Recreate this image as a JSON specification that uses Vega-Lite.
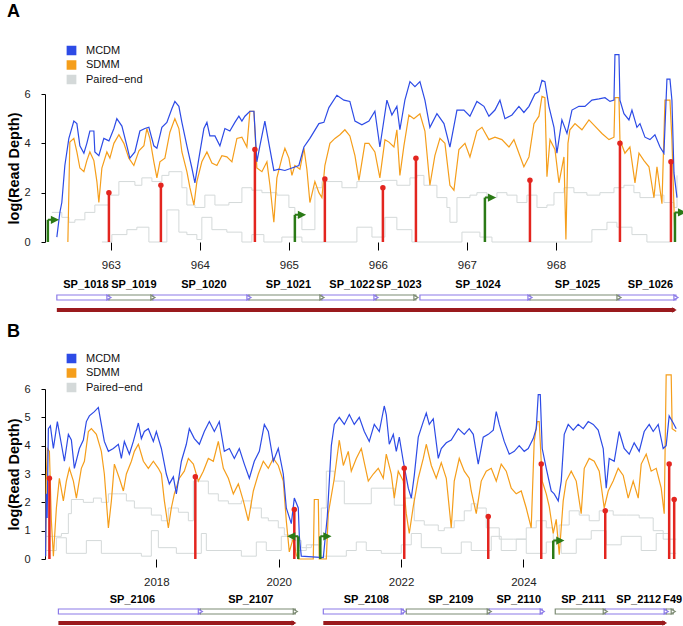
{
"$schema":"https://vega.github.io/schema/vega-lite/v6.json",
"padding":{"left":6,"top":3,"right":0,"bottom":0},
"config":{"font":"Liberation Sans","view":{"stroke":null},"axis":{"grid":false}},
"datasets":{
"mA":[{"x":962.393,"y":0.2},{"x":962.427,"y":1.2},{"x":962.449,"y":1.6},{"x":962.483,"y":3.1},{"x":962.528,"y":4.2},{"x":962.584,"y":4.9},{"x":962.618,"y":4.8},{"x":962.652,"y":3.9},{"x":962.697,"y":3.6},{"x":962.73,"y":4.0},{"x":962.764,"y":4.5},{"x":962.809,"y":4.5},{"x":962.82,"y":3.65},{"x":962.865,"y":3.5},{"x":962.921,"y":4.2},{"x":962.978,"y":4.1},{"x":963.034,"y":4.6},{"x":963.067,"y":5.0},{"x":963.124,"y":4.7},{"x":963.18,"y":3.9},{"x":963.213,"y":3.4},{"x":963.27,"y":3.65},{"x":963.326,"y":4.5},{"x":963.382,"y":4.6},{"x":963.427,"y":4.65},{"x":963.483,"y":3.9},{"x":963.517,"y":3.8},{"x":963.573,"y":4.65},{"x":963.629,"y":4.85},{"x":963.685,"y":5.4},{"x":963.719,"y":5.7},{"x":963.764,"y":5.5},{"x":963.798,"y":4.85},{"x":963.854,"y":3.9},{"x":963.91,"y":3.0},{"x":963.944,"y":2.4},{"x":963.989,"y":3.4},{"x":964.045,"y":4.6},{"x":964.079,"y":4.85},{"x":964.112,"y":4.3},{"x":964.169,"y":4.3},{"x":964.225,"y":3.9},{"x":964.281,"y":4.6},{"x":964.337,"y":4.5},{"x":964.393,"y":4.85},{"x":964.438,"y":5.1},{"x":964.472,"y":4.9},{"x":964.506,"y":5.1},{"x":964.562,"y":5.3},{"x":964.607,"y":5.3},{"x":964.64,"y":3.25},{"x":964.674,"y":3.9},{"x":964.73,"y":4.9},{"x":964.775,"y":4.0},{"x":964.831,"y":2.9},{"x":964.888,"y":2.95},{"x":964.955,"y":2.9},{"x":965.034,"y":3.0},{"x":965.112,"y":3.1},{"x":965.169,"y":3.85},{"x":965.236,"y":4.2},{"x":965.337,"y":4.8},{"x":965.393,"y":4.85},{"x":965.449,"y":5.45},{"x":965.539,"y":5.95},{"x":965.618,"y":5.75},{"x":965.685,"y":5.7},{"x":965.742,"y":4.9},{"x":965.82,"y":4.75},{"x":965.899,"y":4.9},{"x":965.966,"y":5.3},{"x":966.022,"y":3.85},{"x":966.101,"y":5.75},{"x":966.157,"y":5.15},{"x":966.213,"y":5.5},{"x":966.247,"y":4.55},{"x":966.303,"y":5.75},{"x":966.36,"y":6.5},{"x":966.416,"y":6.3},{"x":966.472,"y":6.5},{"x":966.528,"y":5.75},{"x":966.584,"y":4.65},{"x":966.663,"y":5.2},{"x":966.742,"y":4.8},{"x":966.809,"y":3.85},{"x":966.888,"y":5.35},{"x":966.966,"y":5.35},{"x":967.034,"y":5.1},{"x":967.112,"y":5.7},{"x":967.191,"y":5.5},{"x":967.247,"y":5.1},{"x":967.315,"y":5.35},{"x":967.371,"y":5.75},{"x":967.427,"y":5.0},{"x":967.506,"y":5.15},{"x":967.584,"y":5.5},{"x":967.64,"y":5.25},{"x":967.697,"y":5.5},{"x":967.764,"y":6.0},{"x":967.809,"y":6.1},{"x":967.843,"y":6.55},{"x":967.876,"y":6.5},{"x":967.921,"y":5.5},{"x":967.978,"y":4.65},{"x":968.011,"y":3.6},{"x":968.067,"y":4.95},{"x":968.124,"y":4.4},{"x":968.18,"y":5.35},{"x":968.258,"y":5.5},{"x":968.326,"y":5.5},{"x":968.404,"y":5.75},{"x":968.483,"y":5.8},{"x":968.551,"y":5.85},{"x":968.607,"y":5.7},{"x":968.652,"y":5.75},{"x":968.663,"y":7.6},{"x":968.708,"y":7.6},{"x":968.719,"y":5.75},{"x":968.764,"y":5.2},{"x":968.82,"y":4.95},{"x":968.854,"y":5.35},{"x":968.91,"y":4.65},{"x":968.944,"y":4.8},{"x":969.0,"y":4.25},{"x":969.056,"y":4.15},{"x":969.112,"y":4.35},{"x":969.169,"y":3.85},{"x":969.213,"y":3.6},{"x":969.247,"y":6.6},{"x":969.281,"y":6.6},{"x":969.303,"y":5.75},{"x":969.326,"y":2.8},{"x":969.36,"y":1.8}],
"sA":[{"x":962.517,"y":0},{"x":962.539,"y":4.05},{"x":962.584,"y":4.2},{"x":962.618,"y":3.65},{"x":962.652,"y":3.0},{"x":962.697,"y":2.85},{"x":962.73,"y":3.3},{"x":962.764,"y":3.65},{"x":962.809,"y":3.3},{"x":962.843,"y":2.45},{"x":962.865,"y":1.6},{"x":962.899,"y":3.0},{"x":962.955,"y":3.65},{"x":962.989,"y":3.4},{"x":963.034,"y":4.0},{"x":963.09,"y":4.35},{"x":963.146,"y":4.0},{"x":963.202,"y":3.4},{"x":963.258,"y":3.1},{"x":963.315,"y":3.7},{"x":963.371,"y":3.9},{"x":963.404,"y":4.6},{"x":963.438,"y":4.2},{"x":963.483,"y":3.25},{"x":963.517,"y":2.6},{"x":963.551,"y":3.25},{"x":963.607,"y":3.4},{"x":963.663,"y":4.45},{"x":963.719,"y":5.0},{"x":963.764,"y":4.6},{"x":963.798,"y":3.65},{"x":963.854,"y":2.85},{"x":963.888,"y":2.2},{"x":963.933,"y":1.5},{"x":963.966,"y":2.45},{"x":964.022,"y":3.25},{"x":964.079,"y":3.65},{"x":964.135,"y":3.2},{"x":964.191,"y":3.1},{"x":964.247,"y":3.5},{"x":964.303,"y":3.45},{"x":964.36,"y":3.25},{"x":964.416,"y":4.2},{"x":964.472,"y":4.25},{"x":964.528,"y":3.85},{"x":964.562,"y":5.3},{"x":964.607,"y":5.3},{"x":964.64,"y":3.0},{"x":964.697,"y":2.85},{"x":964.753,"y":3.25},{"x":964.787,"y":2.3},{"x":964.831,"y":0.8},{"x":964.865,"y":2.6},{"x":964.921,"y":3.4},{"x":964.955,"y":3.8},{"x":965.0,"y":3.4},{"x":965.034,"y":2.7},{"x":965.067,"y":3.1},{"x":965.124,"y":2.95},{"x":965.169,"y":3.8},{"x":965.202,"y":2.95},{"x":965.236,"y":1.6},{"x":965.292,"y":2.45},{"x":965.337,"y":2.0},{"x":965.371,"y":1.8},{"x":965.404,"y":3.1},{"x":965.461,"y":4.0},{"x":965.517,"y":4.2},{"x":965.573,"y":4.35},{"x":965.629,"y":4.55},{"x":965.685,"y":4.3},{"x":965.742,"y":3.5},{"x":965.787,"y":2.5},{"x":965.854,"y":4.0},{"x":965.899,"y":4.0},{"x":965.966,"y":3.65},{"x":966.022,"y":2.6},{"x":966.079,"y":4.15},{"x":966.124,"y":4.05},{"x":966.18,"y":3.85},{"x":966.213,"y":4.55},{"x":966.247,"y":2.7},{"x":966.292,"y":3.9},{"x":966.348,"y":5.15},{"x":966.404,"y":5.0},{"x":966.472,"y":5.2},{"x":966.528,"y":4.5},{"x":966.584,"y":2.3},{"x":966.64,"y":3.5},{"x":966.697,"y":4.2},{"x":966.753,"y":4.0},{"x":966.809,"y":2.3},{"x":966.854,"y":2.1},{"x":966.91,"y":3.75},{"x":966.978,"y":4.0},{"x":967.034,"y":3.45},{"x":967.112,"y":4.5},{"x":967.169,"y":4.65},{"x":967.247,"y":4.15},{"x":967.315,"y":4.25},{"x":967.393,"y":4.15},{"x":967.472,"y":3.85},{"x":967.528,"y":4.15},{"x":967.584,"y":3.6},{"x":967.64,"y":3.05},{"x":967.697,"y":3.45},{"x":967.753,"y":4.8},{"x":967.809,"y":5.1},{"x":967.843,"y":5.9},{"x":967.876,"y":5.85},{"x":967.899,"y":2.65},{"x":967.933,"y":4.15},{"x":967.989,"y":3.75},{"x":968.034,"y":2.4},{"x":968.09,"y":3.45},{"x":968.112,"y":0.1},{"x":968.135,"y":4.0},{"x":968.157,"y":4.55},{"x":968.214,"y":4.8},{"x":968.292,"y":4.55},{"x":968.371,"y":4.95},{"x":968.438,"y":4.7},{"x":968.517,"y":4.4},{"x":968.596,"y":4.15},{"x":968.652,"y":4.25},{"x":968.663,"y":5.85},{"x":968.708,"y":5.85},{"x":968.719,"y":4.15},{"x":968.775,"y":3.6},{"x":968.831,"y":3.85},{"x":968.888,"y":2.4},{"x":968.933,"y":3.6},{"x":968.989,"y":3.3},{"x":969.045,"y":3.05},{"x":969.101,"y":1.8},{"x":969.135,"y":3.05},{"x":969.191,"y":1.55},{"x":969.225,"y":5.75},{"x":969.281,"y":5.75},{"x":969.303,"y":4.15},{"x":969.337,"y":0.1}],
"pA":[{"t":"u","x":962.337,"y":1.2},{"t":"u","x":962.449,"y":1.0},{"t":"u","x":962.528,"y":0.8},{"t":"u","x":962.596,"y":0.9},{"t":"u","x":962.708,"y":1.2},{"t":"u","x":962.82,"y":1.5},{"t":"u","x":962.978,"y":1.9},{"t":"u","x":963.09,"y":2.45},{"t":"u","x":963.27,"y":2.3},{"t":"u","x":963.348,"y":2.6},{"t":"u","x":963.461,"y":2.45},{"t":"u","x":963.573,"y":2.7},{"t":"u","x":963.652,"y":2.85},{"t":"u","x":963.798,"y":2.2},{"t":"u","x":963.854,"y":1.5},{"t":"u","x":963.944,"y":1.4},{"t":"u","x":964.056,"y":1.9},{"t":"u","x":964.169,"y":1.5},{"t":"u","x":964.326,"y":1.6},{"t":"u","x":964.472,"y":2.2},{"t":"u","x":964.584,"y":2.1},{"t":"u","x":964.697,"y":2.0},{"t":"u","x":964.865,"y":1.9},{"t":"u","x":965.0,"y":1.4},{"t":"u","x":965.067,"y":1.0},{"t":"u","x":965.146,"y":0.5},{"t":"u","x":965.292,"y":2.2},{"t":"u","x":965.371,"y":2.45},{"t":"u","x":965.596,"y":2.2},{"t":"u","x":965.764,"y":2.45},{"t":"u","x":966.045,"y":2.5},{"t":"u","x":966.213,"y":2.3},{"t":"u","x":966.36,"y":2.6},{"t":"u","x":966.438,"y":2.7},{"t":"u","x":966.517,"y":2.3},{"t":"u","x":966.663,"y":1.8},{"t":"u","x":966.775,"y":1.4},{"t":"u","x":966.809,"y":0.8},{"t":"u","x":966.888,"y":1.8},{"t":"u","x":967.034,"y":1.9},{"t":"u","x":967.112,"y":2.0},{"t":"u","x":967.225,"y":1.8},{"t":"u","x":967.337,"y":2.0},{"t":"u","x":967.449,"y":1.9},{"t":"u","x":967.562,"y":1.6},{"t":"u","x":967.674,"y":1.9},{"t":"u","x":967.787,"y":1.4},{"t":"u","x":967.899,"y":1.5},{"t":"u","x":967.978,"y":2.0},{"t":"u","x":968.09,"y":2.2},{"t":"u","x":968.202,"y":2.0},{"t":"u","x":968.348,"y":1.9},{"t":"u","x":968.494,"y":2.0},{"t":"u","x":968.652,"y":2.2},{"t":"u","x":968.764,"y":2.3},{"t":"u","x":968.876,"y":2.0},{"t":"u","x":968.944,"y":1.8},{"t":"u","x":969.101,"y":1.9},{"t":"u","x":969.213,"y":1.6},{"t":"u","x":969.326,"y":1.4},{"t":"u","x":969.36,"y":2.7},
{"t":"l","x":962.899,"y":0},{"t":"l","x":963.011,"y":0.3},{"t":"l","x":963.18,"y":0.5},{"t":"l","x":963.292,"y":0.6},{"t":"l","x":963.427,"y":0},{"t":"l","x":963.629,"y":1.3},{"t":"l","x":963.764,"y":0.4},{"t":"l","x":963.854,"y":0.3},{"t":"l","x":963.966,"y":0.1},{"t":"l","x":964.022,"y":1.0},{"t":"l","x":964.135,"y":0.5},{"t":"l","x":964.303,"y":0.4},{"t":"l","x":964.472,"y":0},{"t":"l","x":964.584,"y":0.3},{"t":"l","x":964.719,"y":0},{"t":"l","x":964.921,"y":0.2},{"t":"l","x":965.146,"y":0},{"t":"l","x":965.764,"y":0.6},{"t":"l","x":965.933,"y":0.2},{"t":"l","x":966.079,"y":1.0},{"t":"l","x":966.213,"y":0.5},{"t":"l","x":966.382,"y":0},{"t":"l","x":966.944,"y":0.4},{"t":"l","x":967.146,"y":0.2},{"t":"l","x":967.281,"y":0},{"t":"l","x":968.404,"y":0.5},{"t":"l","x":968.573,"y":0.8},{"t":"l","x":968.685,"y":0.6},{"t":"l","x":968.854,"y":0.3},{"t":"l","x":969.022,"y":0},{"t":"l","x":969.3,"y":0}],
"lolA":[{"x":962.978,"y":2.0},{"x":963.562,"y":2.3},{"x":964.618,"y":3.75},{"x":965.404,"y":2.55},{"x":966.056,"y":2.2},{"x":966.427,"y":3.4},{"x":967.708,"y":2.5},{"x":968.719,"y":4.0},{"x":969.292,"y":3.25}],
"flagA":[{"x":962.292,"y":0.9,"dir":"+"},{"x":965.067,"y":1.1,"dir":"+"},{"x":967.202,"y":1.8,"dir":"+"},{"x":969.337,"y":1.2,"dir":"+"}],
"baseA":[{"x":962.26,"x2":962.978,"kind":"flank"},{"x":962.978,"x2":969.36,"kind":"transcript"}],
"tagsA":[{"x":962.36,"label":"TIGR4"},{"x":969.135,"label":"Kb"}],
"genesA":[{"gene":"SP_1018","start":962.393,"end":962.978,"grp":"a"},{"gene":"SP_1019","start":962.978,"end":963.472,"grp":"b"},{"gene":"SP_1020","start":963.472,"end":964.551,"grp":"a"},{"gene":"SP_1021","start":964.551,"end":965.371,"grp":"b"},{"gene":"SP_1022","start":965.371,"end":965.978,"grp":"a"},{"gene":"SP_1023","start":965.978,"end":966.427,"grp":"b"},{"gene":"SP_1024","start":966.472,"end":967.708,"grp":"a"},{"gene":"SP_1025","start":967.708,"end":968.708,"grp":"b"},{"gene":"SP_1026","start":968.708,"end":969.348,"grp":"a"}],
"opA":[{"start":962.393,"end":969.33}],
"mB":[{"x":2016.19,"y":0.1},{"x":2016.2,"y":2.3},{"x":2016.215,"y":1.45},{"x":2016.235,"y":4.6},{"x":2016.268,"y":4.7},{"x":2016.317,"y":3.9},{"x":2016.382,"y":4.85},{"x":2016.448,"y":4.05},{"x":2016.497,"y":3.45},{"x":2016.562,"y":4.4},{"x":2016.611,"y":4.2},{"x":2016.66,"y":3.2},{"x":2016.742,"y":3.9},{"x":2016.807,"y":4.2},{"x":2016.856,"y":4.85},{"x":2016.905,"y":5.05},{"x":2016.987,"y":5.2},{"x":2017.052,"y":5.35},{"x":2017.101,"y":4.75},{"x":2017.15,"y":4.15},{"x":2017.216,"y":3.8},{"x":2017.297,"y":3.9},{"x":2017.379,"y":4.05},{"x":2017.428,"y":3.55},{"x":2017.477,"y":4.15},{"x":2017.559,"y":3.7},{"x":2017.624,"y":4.15},{"x":2017.706,"y":4.8},{"x":2017.755,"y":4.25},{"x":2017.804,"y":4.5},{"x":2017.869,"y":4.6},{"x":2017.951,"y":4.15},{"x":2018.0,"y":4.5},{"x":2018.082,"y":3.9},{"x":2018.163,"y":3.0},{"x":2018.212,"y":2.65},{"x":2018.278,"y":2.9},{"x":2018.327,"y":2.3},{"x":2018.409,"y":3.45},{"x":2018.49,"y":4.05},{"x":2018.539,"y":4.6},{"x":2018.621,"y":4.25},{"x":2018.703,"y":4.05},{"x":2018.784,"y":4.5},{"x":2018.866,"y":4.85},{"x":2018.948,"y":4.5},{"x":2019.029,"y":4.85},{"x":2019.111,"y":3.8},{"x":2019.193,"y":3.9},{"x":2019.275,"y":3.55},{"x":2019.356,"y":3.9},{"x":2019.438,"y":3.35},{"x":2019.52,"y":2.85},{"x":2019.601,"y":3.45},{"x":2019.683,"y":3.8},{"x":2019.765,"y":4.75},{"x":2019.83,"y":4.5},{"x":2019.912,"y":3.45},{"x":2019.993,"y":3.9},{"x":2020.075,"y":3.0},{"x":2020.124,"y":1.8},{"x":2020.206,"y":1.25},{"x":2020.255,"y":2.15},{"x":2020.32,"y":1.8},{"x":2020.337,"y":0.8},{"x":2020.369,"y":0.1},{"x":2020.729,"y":0.05},{"x":2020.794,"y":1.5},{"x":2020.86,"y":4.0},{"x":2020.909,"y":4.75},{"x":2020.99,"y":5.0},{"x":2021.072,"y":4.75},{"x":2021.154,"y":5.1},{"x":2021.235,"y":4.75},{"x":2021.317,"y":5.0},{"x":2021.399,"y":4.5},{"x":2021.48,"y":4.15},{"x":2021.562,"y":4.75},{"x":2021.644,"y":4.5},{"x":2021.725,"y":5.4},{"x":2021.758,"y":5.1},{"x":2021.807,"y":4.05},{"x":2021.873,"y":4.4},{"x":2021.922,"y":3.8},{"x":2021.971,"y":4.3},{"x":2022.036,"y":3.45},{"x":2022.118,"y":2.5},{"x":2022.167,"y":2.15},{"x":2022.216,"y":2.95},{"x":2022.281,"y":4.3},{"x":2022.363,"y":4.85},{"x":2022.412,"y":5.15},{"x":2022.461,"y":4.75},{"x":2022.526,"y":4.95},{"x":2022.608,"y":3.55},{"x":2022.657,"y":3.9},{"x":2022.739,"y":4.1},{"x":2022.82,"y":4.2},{"x":2022.935,"y":4.6},{"x":2023.033,"y":4.4},{"x":2023.114,"y":4.6},{"x":2023.18,"y":4.4},{"x":2023.261,"y":3.35},{"x":2023.343,"y":4.3},{"x":2023.425,"y":4.4},{"x":2023.507,"y":4.55},{"x":2023.556,"y":5.2},{"x":2023.605,"y":4.75},{"x":2023.686,"y":4.15},{"x":2023.768,"y":3.7},{"x":2023.85,"y":3.8},{"x":2023.931,"y":4.0},{"x":2024.013,"y":3.8},{"x":2024.078,"y":3.9},{"x":2024.16,"y":4.25},{"x":2024.209,"y":4.6},{"x":2024.242,"y":5.8},{"x":2024.275,"y":5.8},{"x":2024.307,"y":3.9},{"x":2024.373,"y":3.2},{"x":2024.454,"y":2.4},{"x":2024.503,"y":2.3},{"x":2024.569,"y":2.05},{"x":2024.618,"y":2.75},{"x":2024.667,"y":4.4},{"x":2024.732,"y":4.75},{"x":2024.814,"y":4.55},{"x":2024.895,"y":4.75},{"x":2024.977,"y":4.6},{"x":2025.059,"y":4.85},{"x":2025.141,"y":4.75},{"x":2025.222,"y":4.55},{"x":2025.304,"y":3.9},{"x":2025.353,"y":2.5},{"x":2025.402,"y":3.55},{"x":2025.484,"y":3.45},{"x":2025.565,"y":4.5},{"x":2025.647,"y":3.9},{"x":2025.729,"y":3.7},{"x":2025.81,"y":4.1},{"x":2025.892,"y":3.8},{"x":2025.974,"y":4.5},{"x":2026.056,"y":4.75},{"x":2026.121,"y":4.5},{"x":2026.203,"y":4.75},{"x":2026.284,"y":3.9},{"x":2026.333,"y":4.0},{"x":2026.382,"y":5.05},{"x":2026.448,"y":4.8},{"x":2026.497,"y":4.6}],
"sB":[{"x":2016.19,"y":0.1},{"x":2016.2,"y":2.85},{"x":2016.219,"y":3.9},{"x":2016.252,"y":3.8},{"x":2016.284,"y":1.35},{"x":2016.317,"y":0.1},{"x":2016.366,"y":1.8},{"x":2016.415,"y":2.85},{"x":2016.48,"y":2.05},{"x":2016.529,"y":2.75},{"x":2016.578,"y":3.2},{"x":2016.644,"y":2.75},{"x":2016.693,"y":2.15},{"x":2016.774,"y":3.2},{"x":2016.824,"y":3.45},{"x":2016.889,"y":4.5},{"x":2016.938,"y":4.6},{"x":2017.02,"y":4.4},{"x":2017.101,"y":3.8},{"x":2017.15,"y":3.0},{"x":2017.216,"y":1.1},{"x":2017.265,"y":2.05},{"x":2017.314,"y":3.35},{"x":2017.395,"y":2.85},{"x":2017.461,"y":2.4},{"x":2017.51,"y":3.0},{"x":2017.592,"y":3.45},{"x":2017.641,"y":3.8},{"x":2017.706,"y":4.05},{"x":2017.788,"y":3.45},{"x":2017.869,"y":3.2},{"x":2017.951,"y":3.45},{"x":2018.033,"y":3.2},{"x":2018.082,"y":3.0},{"x":2018.131,"y":2.05},{"x":2018.196,"y":1.1},{"x":2018.245,"y":1.8},{"x":2018.294,"y":2.3},{"x":2018.376,"y":2.85},{"x":2018.457,"y":3.1},{"x":2018.523,"y":3.55},{"x":2018.605,"y":3.35},{"x":2018.686,"y":2.75},{"x":2018.768,"y":3.1},{"x":2018.85,"y":3.55},{"x":2018.931,"y":3.45},{"x":2019.013,"y":4.15},{"x":2019.095,"y":3.2},{"x":2019.177,"y":2.85},{"x":2019.258,"y":2.3},{"x":2019.34,"y":2.65},{"x":2019.422,"y":2.05},{"x":2019.503,"y":1.35},{"x":2019.585,"y":2.4},{"x":2019.667,"y":3.0},{"x":2019.748,"y":3.45},{"x":2019.83,"y":3.2},{"x":2019.912,"y":3.55},{"x":2019.993,"y":3.3},{"x":2020.075,"y":2.75},{"x":2020.124,"y":1.35},{"x":2020.173,"y":0.25},{"x":2020.239,"y":0.75},{"x":2020.288,"y":0.15},{"x":2020.32,"y":0},{"x":2020.565,"y":0},{"x":2020.582,"y":2.1},{"x":2020.647,"y":2.1},{"x":2020.663,"y":0},{"x":2020.778,"y":0},{"x":2020.81,"y":1.6},{"x":2020.909,"y":2.85},{"x":2020.99,"y":4.2},{"x":2021.056,"y":3.3},{"x":2021.137,"y":3.8},{"x":2021.186,"y":3.1},{"x":2021.268,"y":3.55},{"x":2021.35,"y":3.9},{"x":2021.399,"y":3.4},{"x":2021.464,"y":2.75},{"x":2021.546,"y":3.0},{"x":2021.627,"y":3.2},{"x":2021.709,"y":2.85},{"x":2021.758,"y":3.7},{"x":2021.84,"y":3.0},{"x":2021.889,"y":2.15},{"x":2021.954,"y":3.1},{"x":2022.036,"y":2.75},{"x":2022.085,"y":1.6},{"x":2022.134,"y":0.9},{"x":2022.199,"y":1.85},{"x":2022.281,"y":2.85},{"x":2022.363,"y":3.55},{"x":2022.412,"y":4.05},{"x":2022.494,"y":3.3},{"x":2022.575,"y":2.85},{"x":2022.657,"y":3.4},{"x":2022.739,"y":2.85},{"x":2022.82,"y":1.1},{"x":2022.869,"y":2.75},{"x":2022.951,"y":3.55},{"x":2023.033,"y":3.1},{"x":2023.114,"y":2.85},{"x":2023.147,"y":2.4},{"x":2023.229,"y":1.6},{"x":2023.31,"y":2.75},{"x":2023.392,"y":3.1},{"x":2023.474,"y":3.2},{"x":2023.556,"y":2.75},{"x":2023.637,"y":3.35},{"x":2023.719,"y":3.1},{"x":2023.801,"y":2.5},{"x":2023.882,"y":2.3},{"x":2023.964,"y":2.4},{"x":2024.046,"y":1.8},{"x":2024.127,"y":1.1},{"x":2024.176,"y":4.15},{"x":2024.226,"y":4.85},{"x":2024.258,"y":4.85},{"x":2024.307,"y":2.75},{"x":2024.373,"y":2.3},{"x":2024.422,"y":1.85},{"x":2024.487,"y":0.9},{"x":2024.536,"y":1.4},{"x":2024.585,"y":0.15},{"x":2024.65,"y":2.05},{"x":2024.699,"y":2.75},{"x":2024.781,"y":3.1},{"x":2024.863,"y":2.75},{"x":2024.944,"y":1.6},{"x":2024.994,"y":3.2},{"x":2025.075,"y":3.55},{"x":2025.157,"y":3.45},{"x":2025.239,"y":3.1},{"x":2025.32,"y":1.8},{"x":2025.386,"y":2.4},{"x":2025.467,"y":2.75},{"x":2025.549,"y":3.2},{"x":2025.631,"y":2.95},{"x":2025.712,"y":2.15},{"x":2025.794,"y":2.75},{"x":2025.876,"y":2.15},{"x":2025.925,"y":3.35},{"x":2026.007,"y":3.7},{"x":2026.088,"y":3.1},{"x":2026.17,"y":3.2},{"x":2026.252,"y":2.5},{"x":2026.301,"y":1.6},{"x":2026.333,"y":6.5},{"x":2026.415,"y":6.5},{"x":2026.431,"y":4.6},{"x":2026.497,"y":4.5}],
"pB":[{"t":"u","x":2016.19,"y":0.8},{"t":"u","x":2016.448,"y":0.9},{"t":"u","x":2016.562,"y":1.6},{"t":"u","x":2016.611,"y":2.1},{"t":"u","x":2016.807,"y":2.0},{"t":"u","x":2016.971,"y":2.15},{"t":"u","x":2017.101,"y":2.0},{"t":"u","x":2017.216,"y":2.3},{"t":"u","x":2017.379,"y":2.3},{"t":"u","x":2017.51,"y":2.05},{"t":"u","x":2017.641,"y":1.8},{"t":"u","x":2017.918,"y":1.55},{"t":"u","x":2018.082,"y":1.35},{"t":"u","x":2018.196,"y":1.8},{"t":"u","x":2018.36,"y":1.65},{"t":"u","x":2018.523,"y":1.35},{"t":"u","x":2018.605,"y":2.75},{"t":"u","x":2018.85,"y":2.3},{"t":"u","x":2019.013,"y":2.05},{"t":"u","x":2019.177,"y":1.95},{"t":"u","x":2019.389,"y":2.05},{"t":"u","x":2019.552,"y":1.8},{"t":"u","x":2019.716,"y":1.45},{"t":"u","x":2019.83,"y":1.35},{"t":"u","x":2019.993,"y":1.1},{"t":"u","x":2020.092,"y":0.85},{"t":"u","x":2020.206,"y":0.65},{"t":"u","x":2020.369,"y":0.4},{"t":"u","x":2020.533,"y":0.5},{"t":"u","x":2020.696,"y":1.8},{"t":"u","x":2020.778,"y":3.1},{"t":"u","x":2020.909,"y":2.75},{"t":"u","x":2021.072,"y":1.95},{"t":"u","x":2021.513,"y":2.5},{"t":"u","x":2021.889,"y":1.9},{"t":"u","x":2022.052,"y":2.15},{"t":"u","x":2022.216,"y":1.35},{"t":"u","x":2022.379,"y":1.2},{"t":"u","x":2022.608,"y":1.0},{"t":"u","x":2022.706,"y":1.1},{"t":"u","x":2022.869,"y":1.35},{"t":"u","x":2023.033,"y":1.7},{"t":"u","x":2023.147,"y":1.95},{"t":"u","x":2023.229,"y":1.8},{"t":"u","x":2023.392,"y":1.1},{"t":"u","x":2023.605,"y":0.7},{"t":"u","x":2023.833,"y":0.7},{"t":"u","x":2024.046,"y":1.1},{"t":"u","x":2024.209,"y":1.35},{"t":"u","x":2024.373,"y":1.1},{"t":"u","x":2024.487,"y":0.7},{"t":"u","x":2024.585,"y":1.2},{"t":"u","x":2024.748,"y":1.7},{"t":"u","x":2024.912,"y":1.55},{"t":"u","x":2025.075,"y":1.35},{"t":"u","x":2025.239,"y":1.7},{"t":"u","x":2025.467,"y":1.55},{"t":"u","x":2025.68,"y":1.55},{"t":"u","x":2025.892,"y":1.45},{"t":"u","x":2026.121,"y":1.0},{"t":"u","x":2026.284,"y":0.7},{"t":"u","x":2026.497,"y":0.7},
{"t":"l","x":2016.203,"y":0.3},{"t":"l","x":2016.366,"y":0.75},{"t":"l","x":2016.529,"y":0.2},{"t":"l","x":2016.856,"y":0.65},{"t":"l","x":2017.101,"y":0.2},{"t":"l","x":2017.755,"y":0.1},{"t":"l","x":2017.918,"y":1.0},{"t":"l","x":2018.033,"y":0.4},{"t":"l","x":2018.327,"y":0.2},{"t":"l","x":2018.735,"y":0.9},{"t":"l","x":2018.817,"y":0.3},{"t":"l","x":2019.389,"y":0.1},{"t":"l","x":2019.634,"y":0.6},{"t":"l","x":2019.797,"y":0.3},{"t":"l","x":2020.042,"y":0.8},{"t":"l","x":2020.288,"y":0.3},{"t":"l","x":2020.451,"y":0.5},{"t":"l","x":2020.663,"y":0.1},{"t":"l","x":2021.105,"y":0.3},{"t":"l","x":2021.268,"y":0.6},{"t":"l","x":2021.431,"y":0.3},{"t":"l","x":2021.676,"y":0.2},{"t":"l","x":2022.003,"y":0.5},{"t":"l","x":2022.167,"y":0.9},{"t":"l","x":2022.33,"y":0.4},{"t":"l","x":2022.657,"y":0.2},{"t":"l","x":2022.984,"y":0.6},{"t":"l","x":2023.147,"y":0.3},{"t":"l","x":2023.474,"y":0.8},{"t":"l","x":2023.637,"y":0.3},{"t":"l","x":2023.882,"y":0.7},{"t":"l","x":2024.046,"y":0.2},{"t":"l","x":2024.373,"y":0.6},{"t":"l","x":2024.618,"y":0.2},{"t":"l","x":2024.863,"y":0.7},{"t":"l","x":2025.108,"y":1.0},{"t":"l","x":2025.353,"y":0.5},{"t":"l","x":2025.598,"y":0.8},{"t":"l","x":2025.925,"y":0.3},{"t":"l","x":2026.17,"y":0.9},{"t":"l","x":2026.382,"y":0.2},{"t":"l","x":2026.497,"y":0.2}],
"lolB":[{"x":2016.252,"y":2.85},{"x":2018.637,"y":2.9},{"x":2020.255,"y":1.75},{"x":2022.052,"y":3.2},{"x":2023.425,"y":1.5},{"x":2024.291,"y":3.35},{"x":2025.337,"y":1.7},{"x":2026.382,"y":3.35},{"x":2026.464,"y":2.1}],
"flagB":[{"x":2020.32,"y":0.8,"dir":"-"},{"x":2020.68,"y":0.8,"dir":"+"},{"x":2024.487,"y":0.65,"dir":"+"}],
"baseB":[{"x":2016.18,"x2":2026.51,"kind":"transcript"}],
"tagsB":[{"x":2016.317,"label":"TIGR4"},{"x":2026.203,"label":"Kb"}],
"genesB":[{"gene":"SP_2106","start":2016.399,"end":2018.719,"grp":"a"},{"gene":"SP_2107","start":2018.719,"end":2020.271,"grp":"b"},{"gene":"SP_2108","start":2020.729,"end":2022.036,"grp":"a"},{"gene":"SP_2109","start":2022.085,"end":2023.441,"grp":"b"},{"gene":"SP_2110","start":2023.441,"end":2024.307,"grp":"a"},{"gene":"SP_2111","start":2024.52,"end":2025.337,"grp":"b"},{"gene":"SP_2112","start":2025.337,"end":2026.333,"grp":"a"},{"gene":"F49","start":2026.333,"end":2026.448,"grp":"b"}],
"opB":[{"start":2016.399,"end":2020.25},{"start":2020.729,"end":2026.31}]
},
"resolve":{"scale":{"color":"independent","shape":"independent","stroke":"independent"},"legend":{"color":"independent","shape":"independent","stroke":"independent"}},
"spacing":8,
"vconcat":[
{
"title":{"text":"A","anchor":"start","frame":"bounds","fontSize":18,"fontWeight":"bold","offset":24,"color":"#000"},
"spacing":6,
"resolve":{"scale":{"color":"independent","stroke":"independent"},"legend":{"color":"independent","stroke":"independent"}},
"vconcat":[
{
"width":632,"height":148,
"encoding":{
"x":{"field":"x","type":"quantitative","scale":{"domain":[962.26,969.36],"nice":false,"zero":false},"axis":{"values":[963,964,965,966,967,968],"format":"d","title":null,"domain":false,"tickSize":8,"tickColor":"#000","labelPadding":9,"labelFontSize":11.5,"labelColor":"#222"}},
"y":{"field":"y","type":"quantitative","scale":{"domain":[0,6],"nice":false},"axis":{"values":[0,2,4,6],"title":"log(Read Depth)","titleFontSize":14.5,"titleFontWeight":"bold","titleColor":"#000","titlePadding":2,"labelFontSize":11,"labelColor":"#222","tickSize":4,"labelPadding":11,"domainColor":"#000","tickColor":"#000"}}
},
"layer":[
{"data":{"name":"pA"},"mark":{"type":"line","interpolate":"step-after","strokeWidth":1},"encoding":{"detail":{"field":"t"},"color":{"datum":"Paired−end"}}},
{"data":{"name":"sA"},"mark":{"type":"line","strokeWidth":1.2},"encoding":{"color":{"datum":"SDMM"}}},
{"data":{"name":"mA"},"mark":{"type":"line","strokeWidth":1.2},"encoding":{"color":{"datum":"MCDM","type":"nominal","scale":{"domain":["MCDM","SDMM","Paired−end"],"range":["#2d4be6","#f59e1b","#d4d9d9"]},"legend":{"title":null,"orient":"none","legendX":21,"legendY":-49,"symbolType":"square","symbolSize":14,"symbolStrokeWidth":6,"labelFontSize":11,"labelColor":"#111","rowPadding":2.5,"clipHeight":11,"labelOffset":9}}}},
{"data":{"name":"baseA"},"mark":{"type":"rule","strokeWidth":3},"encoding":{"x2":{"field":"x2"},"y":{"datum":0},"color":{"condition":{"test":"datum.kind=='flank'","value":"#2b7a16"},"value":"#e3251f"}}},
{"data":{"name":"lolA"},"mark":{"type":"rule","strokeWidth":2.5,"color":"#e3251f"},"encoding":{"y2":{"datum":0}}},
{"data":{"name":"lolA"},"mark":{"type":"circle","size":30,"color":"#e3251f","opacity":1}},
{"data":{"name":"flagA"},"mark":{"type":"rule","strokeWidth":2.5,"color":"#2b7a16"},"encoding":{"y2":{"datum":0}}},
{"data":{"name":"flagA"},"mark":{"type":"point","size":100,"fill":"#2b7a16","stroke":"#2b7a16","strokeWidth":2,"opacity":1,"fillOpacity":1},"encoding":{"shape":{"field":"dir","type":"nominal","scale":{"domain":["+","-"],"range":["M0,0H0.8M0.8,-0.5L1.8,0L0.8,0.5Z","M0,0H-0.8M-0.8,-0.5L-1.8,0L-0.8,0.5Z"]},"legend":null}}},
{"data":{"name":"tagsA"},"mark":{"type":"text","align":"left","baseline":"middle","dy":14,"fontSize":11,"fontWeight":"bold","color":"#000"},"encoding":{"y":{"datum":0},"text":{"field":"label"}}}
]
},
{
"width":632,"height":38,
"data":{"name":"genesA"},
"encoding":{"x":{"field":"start","type":"quantitative","scale":{"domain":[962.26,969.36],"nice":false,"zero":false},"axis":null}},
"layer":[
{"mark":{"type":"rect","height":5,"fill":"#ffffff","strokeWidth":1.2},"encoding":{"x2":{"field":"end"},"y":{"datum":"gene","type":"nominal","scale":{"type":"point","domain":["label","gene","operon"],"range":[8,33],"padding":0},"axis":null},"stroke":{"field":"grp","type":"nominal","scale":{"domain":["a","b"],"range":["#8c7be8","#7d8c74"]},"legend":null}}},
{"mark":{"type":"point","shape":"triangle-right","size":22,"filled":true,"fill":"#ffffff","strokeWidth":1.2,"opacity":1},"encoding":{"x":{"field":"end","type":"quantitative"},"y":{"datum":"gene"},"stroke":{"field":"grp","type":"nominal","legend":null}}},
{"transform":[{"calculate":"(datum.start+datum.end)/2","as":"mid"}],"mark":{"type":"text","fontSize":11,"fontWeight":"bold","color":"#000","baseline":"middle","dx":3},"encoding":{"x":{"field":"mid","type":"quantitative"},"y":{"datum":"label"},"text":{"field":"gene"}}},
{"data":{"name":"opA"},"mark":{"type":"rect","height":4,"color":"#9a1a1d"},"encoding":{"x2":{"field":"end"},"y":{"datum":"operon"}}},
{"data":{"name":"opA"},"mark":{"type":"point","shape":"triangle-right","size":30,"filled":true,"color":"#9a1a1d","opacity":1},"encoding":{"x":{"field":"end","type":"quantitative"},"y":{"datum":"operon"}}}
]
}
]
},
{
"title":{"text":"B","anchor":"start","frame":"bounds","fontSize":18,"fontWeight":"bold","offset":12,"color":"#000"},
"spacing":4,
"resolve":{"scale":{"color":"independent","stroke":"independent"},"legend":{"color":"independent","stroke":"independent"}},
"vconcat":[
{
"width":632,"height":170,
"encoding":{
"x":{"field":"x","type":"quantitative","scale":{"domain":[2016.18,2026.51],"nice":false,"zero":false},"axis":{"values":[2018,2020,2022,2024],"format":"d","title":null,"domain":false,"tickSize":8,"tickColor":"#000","labelPadding":9,"labelFontSize":11.5,"labelColor":"#222"}},
"y":{"field":"y","type":"quantitative","scale":{"domain":[0,6],"nice":false},"axis":{"values":[0,1,2,3,4,5,6],"title":"log(Read Depth)","titleFontSize":14.5,"titleFontWeight":"bold","titleColor":"#000","titlePadding":2,"labelFontSize":11,"labelColor":"#222","tickSize":4,"labelPadding":11,"domainColor":"#000","tickColor":"#000"}}
},
"layer":[
{"data":{"name":"pB"},"mark":{"type":"line","interpolate":"step-after","strokeWidth":1},"encoding":{"detail":{"field":"t"},"color":{"datum":"Paired−end"}}},
{"data":{"name":"sB"},"mark":{"type":"line","strokeWidth":1.2},"encoding":{"color":{"datum":"SDMM"}}},
{"data":{"name":"mB"},"mark":{"type":"line","strokeWidth":1.2},"encoding":{"color":{"datum":"MCDM","type":"nominal","scale":{"domain":["MCDM","SDMM","Paired−end"],"range":["#2d4be6","#f59e1b","#d4d9d9"]},"legend":{"title":null,"orient":"none","legendX":21,"legendY":-36,"symbolType":"square","symbolSize":14,"symbolStrokeWidth":6,"labelFontSize":11,"labelColor":"#111","rowPadding":2.5,"clipHeight":11,"labelOffset":9}}}},
{"data":{"name":"baseB"},"mark":{"type":"rule","strokeWidth":3,"color":"#e3251f"},"encoding":{"x2":{"field":"x2"},"y":{"datum":0}}},
{"data":{"name":"lolB"},"mark":{"type":"rule","strokeWidth":2.5,"color":"#e3251f"},"encoding":{"y2":{"datum":0}}},
{"data":{"name":"lolB"},"mark":{"type":"circle","size":30,"color":"#e3251f","opacity":1}},
{"data":{"name":"flagB"},"mark":{"type":"rule","strokeWidth":2.5,"color":"#2b7a16"},"encoding":{"y2":{"datum":0}}},
{"data":{"name":"flagB"},"mark":{"type":"point","size":100,"fill":"#2b7a16","stroke":"#2b7a16","strokeWidth":2,"opacity":1,"fillOpacity":1},"encoding":{"shape":{"field":"dir","type":"nominal","scale":{"domain":["+","-"],"range":["M0,0H0.8M0.8,-0.5L1.8,0L0.8,0.5Z","M0,0H-0.8M-0.8,-0.5L-1.8,0L-0.8,0.5Z"]},"legend":null}}},
{"data":{"name":"tagsB"},"mark":{"type":"text","align":"left","baseline":"middle","dy":17,"fontSize":11,"fontWeight":"bold","color":"#000"},"encoding":{"y":{"datum":0},"text":{"field":"label"}}}
]
},
{
"width":632,"height":35,
"data":{"name":"genesB"},
"encoding":{"x":{"field":"start","type":"quantitative","scale":{"domain":[2016.18,2026.51],"nice":false,"zero":false},"axis":null}},
"layer":[
{"mark":{"type":"rect","height":5,"fill":"#ffffff","strokeWidth":1.2},"encoding":{"x2":{"field":"end"},"y":{"datum":"gene","type":"nominal","scale":{"type":"point","domain":["label","gene","operon"],"range":[8,31],"padding":0},"axis":null},"stroke":{"field":"grp","type":"nominal","scale":{"domain":["a","b"],"range":["#8c7be8","#7d8c74"]},"legend":null}}},
{"mark":{"type":"point","shape":"triangle-right","size":22,"filled":true,"fill":"#ffffff","strokeWidth":1.2,"opacity":1},"encoding":{"x":{"field":"end","type":"quantitative"},"y":{"datum":"gene"},"stroke":{"field":"grp","type":"nominal","legend":null}}},
{"transform":[{"calculate":"(datum.start+datum.end)/2","as":"mid"}],"mark":{"type":"text","fontSize":11,"fontWeight":"bold","color":"#000","baseline":"middle","dx":3},"encoding":{"x":{"field":"mid","type":"quantitative"},"y":{"datum":"label"},"text":{"field":"gene"}}},
{"data":{"name":"opB"},"mark":{"type":"rect","height":4,"color":"#9a1a1d"},"encoding":{"x2":{"field":"end"},"y":{"datum":"operon"}}},
{"data":{"name":"opB"},"mark":{"type":"point","shape":"triangle-right","size":30,"filled":true,"color":"#9a1a1d","opacity":1},"encoding":{"x":{"field":"end","type":"quantitative"},"y":{"datum":"operon"}}}
]
}
]
}
]
}
